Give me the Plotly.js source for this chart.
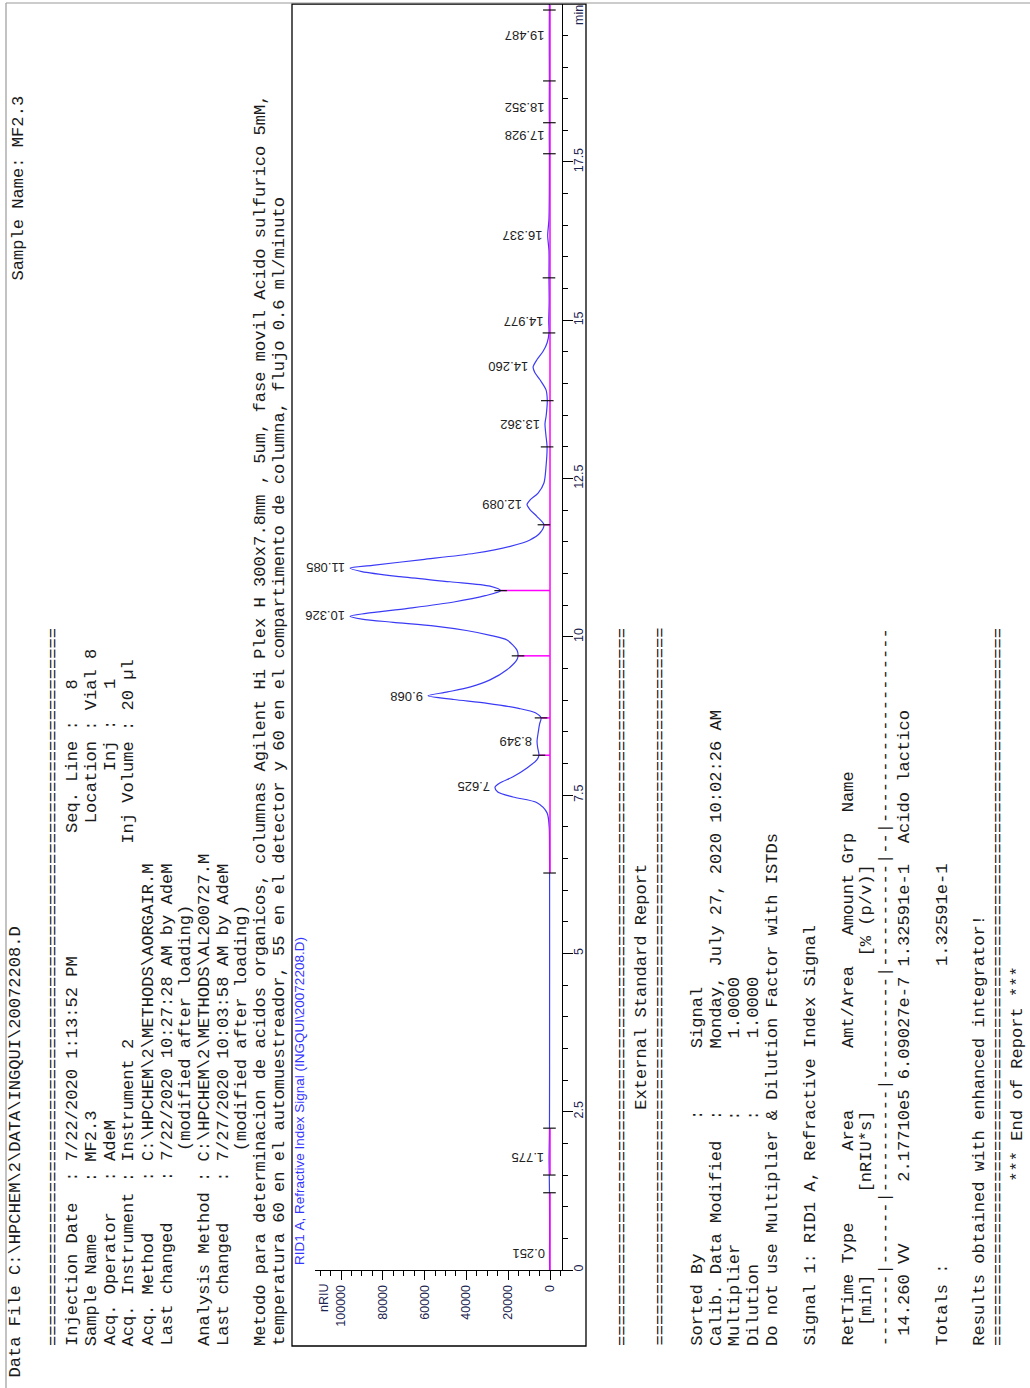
<!DOCTYPE html>
<html>
<head>
<meta charset="utf-8">
<script src="https://cdn.plot.ly/plotly-3.0.1.min.js"></script>
<style>
html,body{margin:0;padding:0;background:#fff;}
#chart{width:1030px;height:1388px;}
</style>
</head>
<body>
<div id="chart"></div>
<script>
// ---------------- DATA ----------------
// chromatogram signal: retention time (min) and response (nRIU)
var signalTime  = [0.00, 0.25, 0.50, 1.22, 1.50, 1.775, 2.24, 4.00, 6.27, 6.80, 7.00, 7.22, 7.38, 7.47, 7.55, 7.625, 7.69, 7.79, 7.93, 8.06, 8.13, 8.25, 8.349, 8.50, 8.62, 8.72, 8.80, 8.87, 8.95, 9.01, 9.068, 9.13, 9.21, 9.32, 9.48, 9.64, 9.70, 9.79, 9.95, 10.02, 10.10, 10.17, 10.23, 10.28, 10.326, 10.37, 10.45, 10.55, 10.65, 10.73, 10.80, 10.87, 10.95, 11.03, 11.085, 11.13, 11.22, 11.32, 11.43, 11.53, 11.64, 11.77, 11.90, 12.01, 12.089, 12.16, 12.27, 12.43, 12.69, 13.00, 13.20, 13.362, 13.50, 13.73, 13.90, 14.06, 14.17, 14.26, 14.38, 14.51, 14.64, 14.80, 14.977, 15.30, 15.67, 16.10, 16.337, 16.60, 17.63, 17.928, 18.12, 18.352, 18.78, 19.487, 19.90, 20.00];
var signalValue = [200, 250, 200, 250, 350, 450, 250, 200, 200, 250, 400, 1400, 6200, 17700, 25000, 26300, 24000, 17700, 11000, 6200, 5300, 5900, 6200, 5600, 5000, 4300, 7000, 15000, 30000, 46000, 58400, 49000, 38000, 28700, 20600, 15800, 15300, 15800, 20600, 28000, 40000, 55000, 75000, 90000, 95700, 88000, 68000, 46000, 31000, 23600, 28700, 47800, 71800, 90000, 95700, 85000, 61000, 36000, 19000, 9600, 4800, 2900, 6200, 9600, 11000, 9600, 5700, 2900, 1900, 1400, 2000, 2400, 1800, 1300, 1900, 4800, 7200, 8100, 6200, 3300, 1400, 500, 600, 400, 500, 500, 1100, 500, 300, 350, 300, 350, 300, 350, 300, 300];

// peak apex labels
var peakLabels  = ["0.251", "1.775", "7.625", "8.349", "9.068", "10.326", "11.085", "12.089", "13.362", "14.260", "14.977", "16.337", "17.928", "18.352", "19.487"];
var peakTimes   = [0.251, 1.775, 7.625, 8.349, 9.068, 10.326, 11.085, 12.089, 13.362, 14.260, 14.977, 16.337, 17.928, 18.352, 19.487];
var peakHeights = [250, 450, 26300, 6200, 58400, 95700, 95700, 11000, 2400, 8100, 600, 1100, 350, 350, 350];

// integration event ticks
var eventTimes  = [1.22, 1.50, 2.24, 6.27, 8.13, 8.72, 9.70, 10.73, 11.77, 13.00, 13.73, 14.80, 15.67, 17.63, 18.12, 18.78, 19.90];
var eventValues = [250, 350, 250, 200, 5300, 4300, 15300, 23600, 2900, 1400, 1300, 500, 500, 300, 300, 300, 300];

// baseline drop lines (valleys)
var dropTimes  = [8.13, 8.72, 9.70, 10.73, 11.77];
var dropValues = [5300, 4300, 15300, 23600, 2900];

// drawn baseline segments (start, end) in minutes
var baseStart = [0.00, 1.50, 6.27];
var baseEnd   = [1.22, 2.24, 19.98];

// report text
var dataFileLine = "Data File C:\\HPCHEM\\2\\DATA\\INGQUI\\20072208.D";
var sampleHeader = "Sample Name: MF2.3";
var sepLine = "======================================================================";
function padTo(s, n){ while (s.length < n) s += " "; return s; }
var headerLines = [
  padTo("Injection Date  : 7/22/2020 1:13:52 PM", 50) + "Seq. Line :   8",
  padTo("Sample Name     : MF2.3", 51) + "Location : Vial 8",
  padTo("Acq. Operator   : AdeM", 56) + "Inj :   1",
  padTo("Acq. Instrument : Instrument 2", 49) + "Inj Volume : 20 \u00b5l",
  "Acq. Method     : C:\\HPCHEM\\2\\METHODS\\AORGAIR.M",
  "Last changed    : 7/22/2020 10:27:28 AM by AdeM",
  "                   (modified after loading)",
  "Analysis Method : C:\\HPCHEM\\2\\METHODS\\AL200727.M",
  "Last changed    : 7/27/2020 10:03:58 AM by AdeM",
  "                   (modified after loading)",
  "Metodo para determinacion de acidos organicos, columnas Agilent Hi Plex H 300x7.8mm , 5um, fase movil Acido sulfurico 5mM,",
  "temperatura 60 en el automuestreador, 55 en el detector y 60 en el compartimento de columna, flujo 0.6 ml/minuto"
];
var reportLines = [
  sepLine,
  "                       External Standard Report",
  sepLine,
  "",
  "Sorted By             :      Signal",
  "Calib. Data Modified  :      Monday, July 27, 2020 10:02:26 AM",
  "Multiplier            :       1.0000",
  "Dilution              :       1.0000",
  "Do not use Multiplier &amp; Dilution Factor with ISTDs",
  "",
  "Signal 1: RID1 A, Refractive Index Signal",
  "",
  "RetTime Type       Area      Amt/Area   Amount Grp  Name",
  "  [min]        [nRIU*s]               [% (p/v)]",
  "-------|------|----------|----------|----------|--|-------------------",
  " 14.260 VV      2.17710e5 6.09027e-7 1.32591e-1  Acido lactico",
  "",
  "Totals :                             1.32591e-1",
  "",
  "Results obtained with enhanced integrator!",
  sepLine,
  "                *** End of Report ***"
];
var plotTitle = "RID1 A, Refractive Index Signal (INGQUI\\20072208.D)";

// ---------------- LAYOUT HELPERS ----------------
var W = 1030, H = 1388;
var MONO = "Liberation Mono", SANS = "Liberation Sans";
var TXT = "#1a1a1a";
function px(x){ return x / W; }
function py(y){ return 1 - y / H; }
function nb(s){ return s.replace(/ /g, "\u00a0"); }
function vtext(str, xc, ybottom, size, color, family){
  return {xref:"paper", yref:"paper", x:px(xc), y:py(ybottom), xanchor:"center", yanchor:"bottom",
          textangle:-90, showarrow:false, text:nb(str), borderpad:0,
          font:{family:family||MONO, size:size, color:color||TXT}};
}

var annotations = [];
annotations.push(vtext(dataFileLine, 15, 1379, 17.1));
annotations.push(vtext(sampleHeader, 18, 282, 17.1));
annotations.push(vtext(sepLine, 53, 1347, 17.1));
for (var i = 0; i < headerLines.length; i++){
  annotations.push(vtext(headerLines[i], 72.5 + 18.8 * i, 1347, 17.1));
}
for (var j = 0; j < reportLines.length; j++){
  if (reportLines[j] === "") continue;
  annotations.push(vtext(reportLines[j], 622 + 18.8 * j, 1347, 17.1));
}
annotations.push(vtext(plotTitle, 299, 1266, 13.5, "#3434ff", SANS));
annotations.push({xref:"paper", yref:"paper", x:px(324), y:py(1283), xanchor:"center", yanchor:"top",
  textangle:-90, showarrow:false, text:"nRIU", borderpad:0, font:{family:SANS, size:12.5, color:"#1c2450"}});
annotations.push({xref:"paper", yref:"paper", x:px(579), y:py(4), xanchor:"center", yanchor:"top",
  textangle:-90, showarrow:false, text:"min", borderpad:0, font:{family:SANS, size:12.5, color:"#1c2450"}});

for (var k = 0; k < peakLabels.length; k++){
  annotations.push({xref:"x", yref:"y", x:peakHeights[k], y:peakTimes[k], xanchor:"right", yanchor:"middle",
    xshift:-4, textangle:180, showarrow:false, text:peakLabels[k], borderpad:0,
    font:{family:SANS, size:13, color:"#222"}});
}

// ---------------- TRACES ----------------
var baseX = [], baseY = [];
for (var b = 0; b < baseStart.length; b++){
  baseX.push(0, 0, null); baseY.push(baseStart[b], baseEnd[b], null);
}
var dropX = [], dropY = [];
for (var d = 0; d < dropTimes.length; d++){
  dropX.push(0, dropValues[d], null); dropY.push(dropTimes[d], dropTimes[d], null);
}

var traces = [
  {x:signalValue, y:signalTime, type:"scatter", mode:"lines",
   line:{color:"#3b3bf5", width:1.2, shape:"spline", smoothing:0.8}, hoverinfo:"skip"},
  {x:baseX, y:baseY, type:"scatter", mode:"lines", line:{color:"#ff00ff", width:1.5}, hoverinfo:"skip"},
  {x:dropX, y:dropY, type:"scatter", mode:"lines", line:{color:"#ff00ff", width:1.5}, hoverinfo:"skip"},
  {x:eventValues, y:eventTimes, type:"scatter", mode:"markers",
   marker:{symbol:"line-ew", size:9, line:{color:"#111", width:1.2}}, hoverinfo:"skip"}
];

var tickFont = {family:SANS, size:12.5, color:"#1c2450"};
var layout = {
  width:W, height:H, margin:{l:0, r:0, t:0, b:0, pad:0},
  paper_bgcolor:"#fff", plot_bgcolor:"rgba(0,0,0,0)", showlegend:false,
  xaxis:{domain:[px(315), px(562)], range:[112440, -5740], anchor:"y",
    showline:true, linecolor:"#000", linewidth:1, mirror:false,
    ticks:"outside", ticklen:9, tickwidth:1, tickcolor:"#000",
    tick0:0, dtick:20000, tickformat:"d", tickangle:-90, tickfont:tickFont,
    showgrid:false, zeroline:false, fixedrange:true,
    minor:{tick0:0, dtick:5000, ticks:"outside", ticklen:5, tickcolor:"#000", tickwidth:1, showgrid:false}},
  yaxis:{domain:[py(1270), py(4)], range:[0, 19.995], anchor:"x", side:"right",
    showline:true, linecolor:"#000", linewidth:1,
    ticks:"outside", ticklen:10, tickwidth:1, tickcolor:"#000",
    tick0:0, dtick:2.5, tickangle:-90, tickfont:tickFont, ticklabelstandoff:-5,
    showgrid:false, zeroline:false, fixedrange:true,
    minor:{tick0:0, dtick:0.5, ticks:"outside", ticklen:5, tickcolor:"#000", tickwidth:1, showgrid:false}},
  shapes:[
    {type:"rect", xref:"paper", yref:"paper", x0:px(292), x1:px(586), y0:py(1346), y1:py(4),
     line:{color:"#000", width:1.3}, fillcolor:"rgba(0,0,0,0)"},
    {type:"line", xref:"paper", yref:"paper", x0:px(6), x1:px(1030), y0:py(3), y1:py(3),
     line:{color:"#9a9a9a", width:1.2}},
    {type:"line", xref:"paper", yref:"paper", x0:px(6), x1:px(6), y0:py(3), y1:py(1388),
     line:{color:"#9a9a9a", width:1.2}}
  ],
  annotations:annotations
};

Plotly.newPlot("chart", traces, layout, {displayModeBar:false, staticPlot:true});
</script>
</body>
</html>
